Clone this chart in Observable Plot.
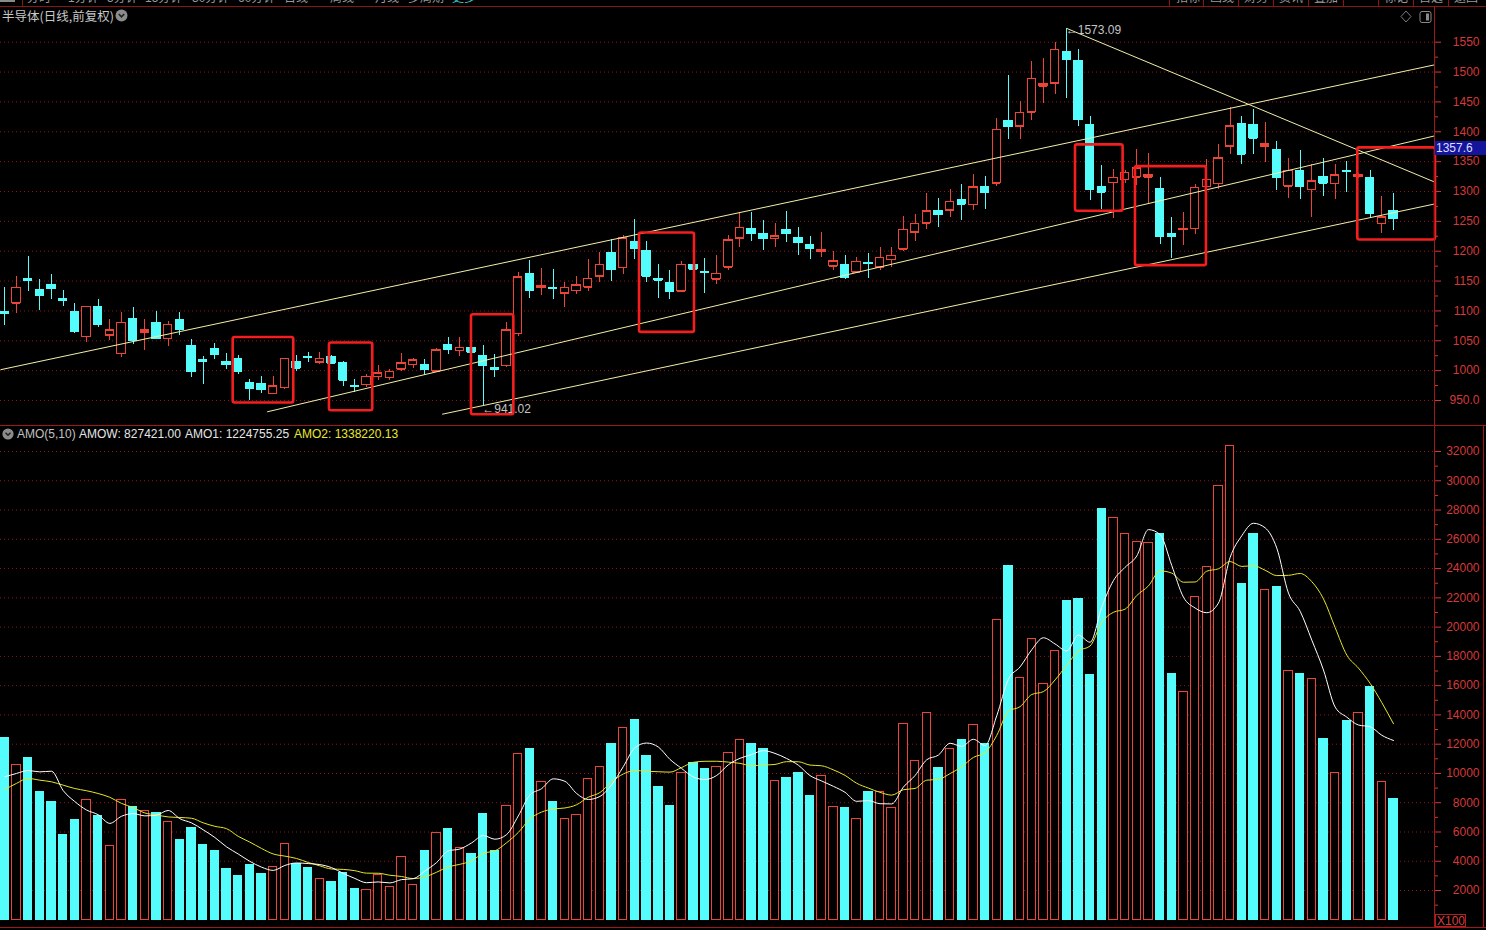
<!DOCTYPE html>
<html><head><meta charset="utf-8">
<script src="https://cdn.jsdelivr.net/npm/d3@7"></script>
<script src="https://cdn.jsdelivr.net/npm/@observablehq/plot@0.6"></script>
<style>
body{margin:0;background:#000;}
#root{position:relative;width:1486px;height:930px;background:#000;overflow:hidden;font-family:"Liberation Sans",Arial,"Noto Sans CJK SC",sans-serif;font-size:12px;}
.abs{position:absolute;white-space:nowrap;}
.tab{top:-8px;color:#9a9a9a;font-size:12px;line-height:12px;}
.sep{top:0;width:1px;height:7px;background:#8b1414;}
</style></head><body>
<div id="root">
  <div id="topPanel" class="abs" style="left:0;top:0"></div>
  <div id="botPanel" class="abs" style="left:0;top:425px"></div>

  <!-- top tab strip (clipped) -->
  <div class="abs" style="left:0;top:0;width:1486px;height:7px;overflow:hidden;">
    <div class="abs" style="left:0;top:0;width:15px;height:2px;background:#8a8a8a"></div>
    <div class="abs sep" style="left:22px"></div>
    <span class="abs tab" style="left:27px">分时</span>
    <span class="abs tab" style="left:68px">1分钟</span>
    <span class="abs tab" style="left:107px">5分钟</span>
    <span class="abs tab" style="left:145px">15分钟</span>
    <span class="abs tab" style="left:192px">30分钟</span>
    <span class="abs tab" style="left:238px">60分钟</span>
    <span class="abs tab" style="left:284px">日线</span>
    <span class="abs tab" style="left:330px">周线</span>
    <span class="abs tab" style="left:375px">月线</span>
    <span class="abs tab" style="left:408px">多周期</span>
    <span class="abs tab" style="left:452px;color:#3cc8c8">更多</span>
    <div class="abs sep" style="left:1169px"></div>
    <span class="abs tab" style="left:1176px">指标</span>
    <div class="abs sep" style="left:1203px"></div>
    <span class="abs tab" style="left:1210px">画线</span>
    <div class="abs sep" style="left:1238px"></div>
    <span class="abs tab" style="left:1244px">财务</span>
    <div class="abs sep" style="left:1273px"></div>
    <span class="abs tab" style="left:1279px">资讯</span>
    <div class="abs sep" style="left:1308px"></div>
    <span class="abs tab" style="left:1314px">叠加</span>
    <div class="abs sep" style="left:1343px"></div>
    <div class="abs sep" style="left:1378px"></div>
    <span class="abs tab" style="left:1384px">标记</span>
    <div class="abs sep" style="left:1413px"></div>
    <span class="abs tab" style="left:1419px">自选</span>
    <div class="abs sep" style="left:1448px"></div>
    <span class="abs tab" style="left:1454px">返回</span>
  </div>
  <!-- frame lines -->
  <div class="abs" style="left:0;top:6px;width:1486px;height:1px;background:#8b1414"></div>
  <div class="abs" style="left:1434px;top:6px;width:1px;height:922px;background:#a01818"></div>
  <div class="abs" style="left:0;top:425px;width:1486px;height:1px;background:#a01818"></div>
  <div class="abs" style="left:0;top:927px;width:1486px;height:1px;background:#a01818"></div>
  <div class="abs" style="left:1483px;top:425px;width:1px;height:503px;background:#a01818"></div>

  <!-- title -->
  <div class="abs" style="left:2px;top:8px;color:#c8c8c8;font-size:12.5px;line-height:16px;font-family:'Noto Sans CJK SC','Liberation Sans',sans-serif;">半导体(日线,前复权)</div>
  <svg class="abs" style="left:115px;top:9px" width="13" height="13"><circle cx="6.5" cy="6.5" r="6" fill="#8c8c8c"/><path d="M3.8 5 L6.5 7.8 L9.2 5" stroke="#202020" stroke-width="1.6" fill="none"/></svg>
  <!-- top right icons -->
  <svg class="abs" style="left:1400px;top:10px" width="34" height="14"><path d="M6 1 L11 6.5 L6 12 L1 6.5 Z" stroke="#7a7a7a" fill="none"/><rect x="20" y="1.5" width="11" height="11" rx="2" stroke="#8a8a8a" fill="none"/><rect x="26" y="3.5" width="3" height="7" fill="#8a8a8a"/></svg>

  <!-- AMO header -->
  <svg class="abs" style="left:2px;top:428px" width="12" height="12"><circle cx="6" cy="6" r="5.6" fill="#8c8c8c"/><path d="M3.5 4.8 L6 7.3 L8.5 4.8" stroke="#202020" stroke-width="1.5" fill="none"/></svg>
  <div class="abs" style="left:17px;top:427px;line-height:14px;color:#c0c0c0">AMO(5,10)</div>
  <div class="abs" style="left:79px;top:427px;line-height:14px;color:#e6e6e6">AMOW: 827421.00</div>
  <div class="abs" style="left:185px;top:427px;line-height:14px;color:#e6e6e6">AMO1: 1224755.25</div>
  <div class="abs" style="left:294px;top:427px;line-height:14px;color:#e8e830">AMO2: 1338220.13</div>

  <!-- X100 -->
  <div class="abs" style="left:1435px;top:914px;width:31px;height:13px;border:1px solid #b02020;box-sizing:border-box;color:#d04040;line-height:12px;font-size:12px;padding-left:1px">X100</div>
  <div id="lastTag" class="abs" style="left:1435px;top:141px;width:51px;height:14px;background:#14149c;color:#dcdcff;line-height:14px;font-size:12px;padding-left:1px">1357.6</div>
</div>
<script>
// ---- data ----
const open = [1099,1113,1153,1135,1144,1120,1099,1057,1107,1059,
 1028,1087,1064,1080,1053,1085,1042,1017,1036,1015,
 1020,980,978,961,971,1014,1023,1014,1023,1012,
 975,976,990,988,1002,1010,1010,999,1043,1033,
 1038,1024,1004,1008,1062,1162,1139,1139,1130,1134,
 1140,1158,1197,1172,1216,1200,1153,1147,1133,1177,
 1166,1153,1173,1222,1238,1228,1221,1235,1222,1210,
 1199,1175,1177,1165,1181,1173,1186,1203,1232,1247,
 1268,1269,1286,1278,1307,1314,1418,1409,1433,1476,
 1481,1534,1519,1412,1308,1315,1320,1324,1324,1304,
 1229,1236,1238,1308,1313,1376,1413,1412,1376,1370,
 1309,1334,1303,1325,1313,1334,1325,1323,1246,1267];
const high = [1139,1158,1191,1152,1161,1135,1113,1108,1119,1085,
 1097,1106,1085,1099,1082,1097,1052,1024,1045,1029,
 1025,986,991,991,1021,1025,1031,1031,1025,1015,
 986,993,1009,1002,1028,1021,1019,1037,1055,1055,
 1039,1042,1027,1080,1164,1185,1171,1169,1147,1158,
 1186,1197,1219,1226,1253,1217,1178,1168,1182,1178,
 1188,1193,1227,1264,1264,1252,1246,1267,1239,1224,
 1231,1200,1192,1190,1196,1206,1206,1258,1261,1296,
 1288,1303,1312,1329,1325,1422,1494,1450,1518,1522,
 1549,1573.09,1537,1426,1344,1337,1335,1370,1363,1323,
 1256,1264,1311,1354,1379,1440,1426,1437,1415,1384,
 1356,1369,1346,1355,1345,1350,1330,1335,1292,1297];
const low = [1076,1095,1133,1100,1119,1107,1062,1047,1073,1050,
 1022,1044,1034,1052,1040,1059,988,976,1018,1002,
 994,950,961,960,969,999,1013,1010,1011,974,
 964,972,984,983,999,1004,992,998,1027,1024,
 1030,941.02,988,1006,1057,1121,1126,1119,1106,1127,
 1133,1147,1150,1161,1186,1148,1121,1119,1131,1169,
 1129,1145,1168,1206,1217,1202,1207,1214,1193,1186,
 1189,1168,1152,1162,1155,1167,1173,1200,1217,1236,
 1239,1257,1251,1268,1270,1309,1387,1387,1419,1448,
 1462,1456,1409,1285,1270,1255,1314,1310,1279,1212,
 1187,1210,1228,1303,1303,1362,1345,1362,1348,1301,
 1289,1287,1257,1292,1287,1299,1322,1255,1229,1235];
const close = [1096,1139,1151,1126,1137,1118,1066,1107,1077,1068,
 1080,1051,1068,1053,1077,1069,998,1015,1027,1010,
 998,970,968,974,1020,1004,1022,1020,1012,984,
 973,990,996,998,1012,1017,1002,1034,1035,1038,
 1031,1008,1002,1068,1156,1134,1141,1137,1139,1143,
 1154,1177,1169,1222,1204,1158,1151,1133,1177,1170,
 1165,1162,1218,1239,1229,1221,1225,1229,1214,1204,
 1202,1183,1156,1182,1179,1189,1192,1236,1246,1267,
 1261,1283,1279,1307,1299,1403,1408,1432,1489,1480,
 1537,1521,1420,1303,1299,1323,1331,1339,1327,1224,
 1224,1238,1306,1320,1356,1409,1362,1389,1379,1324,
 1335,1309,1317,1314,1327,1333,1327,1263,1257,1254];
// turnover (AMO), axis units x100
const amo = [12390,10570,11090,8700,8020,5790,6790,8220,7080,5060,
 8220,7700,7450,7330,6650,5420,6260,5100,4690,3460,
 2980,3740,3120,3580,5150,3830,3530,2780,2550,3170,
 2100,2070,3050,2210,4300,2410,4690,5950,6200,4940,
 4490,7220,4690,7770,11300,11660,9390,8040,6920,7150,
 9610,10430,12000,13140,13640,11180,9070,7770,10050,10730,
 10300,10460,11410,12280,12000,11660,9500,9660,10000,8450,
 9820,7680,7610,6920,8700,8750,7610,13350,10870,14100,
 10340,11660,12280,13300,11980,20460,24170,16490,19160,16080,
 18340,21780,21910,16720,28040,27430,26330,25790,25720,26360,
 16830,15540,22070,24120,29660,32390,22980,26330,22570,22710,
 17020,16790,16470,12350,10050,13580,14100,15880,9430,8274.21];
// moving-average values at the left edge (their windows start before the visible bars)
const amo1Head = [9770,10000,10200,10110];
const amo2Head = [8900,9320,9660,9540,9430,9200,8970,8820,8630];
const priceTicks = [950,1000,1050,1100,1150,1200,1250,1300,1350,1400,1450,1500,1550];
const priceMinor = [975,1025,1075,1125,1175,1225,1275,1325,1375,1425,1475,1525];
const amoTicks = [2000,4000,6000,8000,10000,12000,14000,16000,18000,20000,22000,24000,26000,28000,30000,32000];
const amoMinor = [1000,3000,5000,7000,9000,11000,13000,15000,17000,19000,21000,23000,25000,27000,29000,31000];
// drawn trend lines (bar index, price)
const trendI1 = [-0.37, 22.48, 37.48, 91];
const trendP1 = [1001.5, 931, 927, 1573.09];
const trendI2 = [122.5, 122.5, 122.5, 122.5];
const trendP2 = [1512, 1393, 1279, 1316];
// highlighted boxes (bar index range, price range)
const boxI1 = [19.57, 27.82, 39.99, 54.39, 91.75, 96.89, 115.94];
const boxI2 = [24.76, 31.53, 43.62, 59.10, 95.83, 102.97, 122.6];
const boxP1 = [945.7, 932.8, 926.1, 1064, 1266.8, 1175.8, 1218.8];
const boxP2 = [1055.6, 1046.2, 1093.7, 1230.6, 1378.1, 1341.7, 1373];
const highIdx = 91, lowIdx = 41;
const lastTagPrice = 1372;

// ---- build ----
const n = open.length;
const RED = "#ec4436", CYAN = "#54fcfc", GRID = "#8e1616", AXIS = "#d43a3a";
const TREND = "#f2efa8", BOXRED = "#f41e1e";
const amo1 = amo.map((v, i) => i < 4 ? amo1Head[i] : d3.mean(amo.slice(i - 4, i + 1)));
const amo2 = amo.map((v, i) => i < 9 ? amo2Head[i] : d3.mean(amo.slice(i - 9, i + 1)));
const bars = d3.range(n).map(i => ({i, o: open[i], h: high[i], l: low[i], c: close[i], up: close[i] >= open[i], v: amo[i], m1: amo1[i], m2: amo2[i]}));
const trends = trendI1.map((d, k) => ({i1: d, p1: trendP1[k], i2: trendI2[k], p2: trendP2[k]}));
const boxes = boxI1.map((d, k) => ({i1: d, i2: boxI2[k], p1: boxP1[k], p2: boxP2[k]}));
const hiLabel = [{i: highIdx, p: high[highIdx]}];
const loLabel = [{i: lowIdx, p: low[lowIdx]}];
const HW = 0.36;
const colorOf = d => d.up ? RED : CYAN;
const xs = {domain: [0, n - 1], range: [4.3, 1393], axis: null};
const baseStyle = {background: "transparent", color: AXIS, fontFamily: "'Liberation Sans', Arial, sans-serif", fontSize: "12px", overflow: "visible"};
const labelText = d => "←" + d.p.toFixed(2);

const topPlot = Plot.plot({
  width: 1486, height: 425, marginTop: 8, marginRight: 52, marginBottom: 0, marginLeft: 0,
  x: xs,
  y: {domain: [950, 1550], range: [400, 41.7], axis: null},
  color: {type: "identity"},
  style: baseStyle,
  marks: [
    Plot.ruleY(priceTicks, {stroke: GRID, strokeDasharray: "1,3"}),
    Plot.axisY({anchor: "right", ticks: priceTicks, tickSize: 6, tickPadding: 39, tickFormat: d => d === 950 ? "950.0" : String(d), textAnchor: "end", label: null, fill: AXIS, stroke: AXIS}),
    Plot.axisY({anchor: "right", ticks: priceMinor, tickSize: 3, tickFormat: () => "", label: null, fill: "none", stroke: AXIS}),
    Plot.ruleX(bars, {x: "i", y1: "l", y2: "h", stroke: colorOf, shapeRendering: "crispEdges"}),
    Plot.rect(bars, {x1: d => d.i - HW, x2: d => d.i + HW, y1: "o", y2: "c", fill: d => d.up ? "#000" : CYAN, stroke: colorOf, shapeRendering: "crispEdges"}),
    Plot.ruleY(bars, {y: "o", x1: d => d.i - HW, x2: d => d.i + HW, stroke: colorOf, shapeRendering: "crispEdges"}),
    Plot.ruleY(bars, {y: "c", x1: d => d.i - HW, x2: d => d.i + HW, stroke: colorOf, shapeRendering: "crispEdges"}),
    Plot.link(trends, {x1: "i1", y1: "p1", x2: "i2", y2: "p2", stroke: TREND, strokeWidth: 1}),
    Plot.text(hiLabel, {x: "i", y: "p", text: labelText, textAnchor: "start", lineAnchor: "top", dx: -1, dy: -3, fill: "#c4c4c4", fontSize: 12}),
    Plot.text(loLabel, {x: "i", y: "p", text: labelText, textAnchor: "start", dx: -1, dy: 3, fill: "#c4c4c4", fontSize: 12}),
    Plot.rect(boxes, {x1: "i1", x2: "i2", y1: "p1", y2: "p2", fill: "none", stroke: BOXRED, strokeWidth: 2.6, rx: 2})
  ]
});
document.getElementById("topPanel").appendChild(topPlot);
const ty = topPlot.scale("y").apply(lastTagPrice);
document.getElementById("lastTag").style.top = (ty - 7) + "px";

const botPlot = Plot.plot({
  width: 1486, height: 505, marginTop: 20, marginRight: 52, marginBottom: 10, marginLeft: 0,
  x: xs,
  y: {domain: [0, 32000], range: [494.3, 26], axis: null},
  color: {type: "identity"},
  style: baseStyle,
  marks: [
    Plot.ruleY(amoTicks, {stroke: GRID, strokeDasharray: "1,3"}),
    Plot.axisY({anchor: "right", ticks: amoTicks, tickSize: 6, tickPadding: 39, tickFormat: d => String(d), textAnchor: "end", label: null, fill: AXIS, stroke: AXIS}),
    Plot.axisY({anchor: "right", ticks: amoMinor, tickSize: 3, tickFormat: () => "", label: null, fill: "none", stroke: AXIS}),
    Plot.rect(bars, {x1: d => d.i - HW, x2: d => d.i + HW, y1: 0, y2: "v", fill: d => d.up ? "#000" : CYAN, stroke: colorOf, shapeRendering: "crispEdges"}),
    Plot.line(bars, {x: "i", y: "m2", stroke: "#e6e628", strokeWidth: 1, curve: "monotone-x"}),
    Plot.line(bars, {x: "i", y: "m1", stroke: "#ffffff", strokeWidth: 1, curve: "monotone-x"})
  ]
});
document.getElementById("botPanel").appendChild(botPlot);
</script>
</body></html>
